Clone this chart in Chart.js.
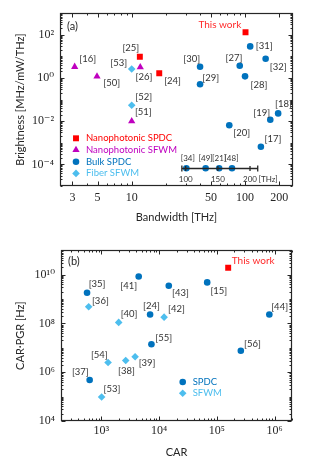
<!DOCTYPE html>
<html><head><meta charset="utf-8">
<script src="https://cdn.jsdelivr.net/npm/chart.js@4/dist/chart.umd.min.js"></script>
<style>
html,body{margin:0;padding:0;background:#fff;width:314px;height:475px;overflow:hidden}
#ca{position:absolute;left:0;top:0}
#cb{position:absolute;left:0;top:237px}
</style></head><body>
<canvas id="ca" width="314" height="237"></canvas>
<canvas id="cb" width="314" height="238"></canvas>
<script>
// ---------- Panel (a): Brightness vs Bandwidth ----------
const bwNanoSPDC = [101, 11.8, 17.5];
const brNanoSPDC = [130, 9.6, 1.67];
const refNanoSPDC = ['This work', '[25]', '[24]'];

const bwNanoSFWM = [3.14, 4.94, 11.9, 10];
const brNanoSFWM = [3.3, 1.19, 3.2, 0.01];
const refNanoSFWM = ['[16]', '[50]', '[26]', '[51]'];

const bwBulk = [40.1, 40.1, 89.8, 100, 111, 152, 196, 167, 72.6, 138];
const brBulk = [3.3, 0.51, 3.7, 1.19, 29, 7.8, 0.023, 0.0117, 0.0065, 0.00066];
const refBulk = ['[30]', '[29]', '[27]', '[28]', '[31]', '[32]', '[18]', '[19]', '[20]', '[17]'];

const bwFiber = [10, 10];
const brFiber = [2.6, 0.055];
const refFiber = ['[53]', '[52]'];

// inset: bulk SPDC sources with bandwidth only (linear THz scale)
const bwInset = [101, 131, 152, 172];
const refInset = ['[34]', '[49]', '[21]', '[48]'];
const insetTickValues = [100, 150, 200];

const bwTickValues = [3, 5, 10, 50, 100, 200];
const brTickValues = [1e-4, 1e-2, 1, 1e2];

// ---------- Panel (b): CAR·PGR vs CAR ----------
const carSPDC = [565, 4430, 14700, 68000, 6980, 810000, 7360, 260000, 627];
const pgrSPDC = [1.8e9, 8.3e9, 3.5e9, 4.8e9, 2.3e8, 2.3e8, 1.4e7, 7.6e6, 4.8e5];
const refSPDC = ['[35]', '[41]', '[43]', '[15]', '[24]', '[44]', '[55]', '[56]', '[37]'];

const carSFWM = [603, 1995, 12200, 1306, 2640, 3840, 1010];
const pgrSFWM = [4.8e8, 1.1e8, 1.8e8, 2.5e6, 3.0e6, 4.3e6, 9.6e4];
const refSFWM = ['[36]', '[40]', '[42]', '[54]', '[38]', '[39]', '[53]'];

const carThisWork = [1.57e5];
const pgrThisWork = [1.9e10];
const refThisWork = ['This work'];

const carTickValues = [1e3, 1e4, 1e5, 1e6];
const pgrTickValues = [1e4, 1e6, 1e8, 1e10];

// ---------- layout / style (kept apart from data) ----------
const C = {red:'#FF0000', mag:'#BF00BF', blue:'#0072BD', light:'#4DBEEE', axis:'#262626', text:'#333333', thisw:'#FF2A2A'};
const SANS = 'Lato, "Liberation Sans", sans-serif';
const SERIF = '"Liberation Serif", "DejaVu Serif", serif';
const insetLevel = 6.6e-5;            // vertical placement of the inset row
const insetAxisRange = [94, 212];     // extent of inset axis line (THz)

const offA = {
  nanoSPDC: [[-25.7,-8],[-9,-8.4],[13.3,7.3]],
  nanoSFWM: [[13,-8.3],[14.7,6.3],[3.7,10],[11.6,-9]],
  bulk: [[-8.3,-8.3],[10.7,-6.6],[-5.7,-7.7],[14,8.3],[14,0],[12.6,8.3],[5.3,-9.3],[-8.6,-6.7],[12.4,7.6],[12,-8]],
  fiber: [[-13,-6],[12,-8.3]],
  inset: [[1.5,-9.5],[0,-9.5],[0,-9.5],[-0.5,-9.5]]
};
const offB = {
  thisw: [[25,-6.6]],
  spdc: [[10,-9],[-10,9.4],[11.7,7],[11.6,8.7],[1.3,-8.4],[10.3,-7.7],[12.3,-6.6],[11.6,-6.3],[-9.3,-8]],
  sfwm: [[11.7,-6],[10.4,-8],[12.3,-8],[-8.7,-8],[0.7,10.3],[12,6],[10.4,-7.6]]
};

const pts = (xs, ys) => xs.map((x, i) => ({x, y: ys[i]}));
const SUP = {'-':'⁻','0':'⁰','1':'¹','2':'²','3':'³','4':'⁴','5':'⁵','6':'⁶','7':'⁷','8':'⁸','9':'⁹'};
const pow10 = v => '10' + String(Math.round(Math.log10(v))).split('').map(c => SUP[c]).join('');

function logTicks(min, max) {
  const out = [];
  for (let n = Math.floor(Math.log10(min)); n <= Math.ceil(Math.log10(max)); n++)
    for (let k = 1; k < 10; k++) {
      const v = k * Math.pow(10, n);
      if (v >= min * 0.9999 && v <= max * 1.0001) out.push(v);
    }
  return out;
}
const isMaj = (v, list) => list.some(m => Math.abs(m - v) / m < 1e-6);

function decorPlugin(o) {
  return {
    id: 'decor',
    afterDraw(chart) {
      const ctx = chart.ctx, a = chart.chartArea, sx = chart.scales.x, sy = chart.scales.y;
      ctx.save();
      const L = Math.round(a.left) + 0.5, R = Math.round(a.right) - 0.5;
      const T = Math.round(a.top) + 0.5, B = Math.round(a.bottom) - 0.5;
      // inward ticks
      ctx.strokeStyle = C.axis; ctx.lineWidth = 1;
      ctx.beginPath();
      for (const v of logTicks(sx.min, sx.max)) {
        const p = Math.round(sx.getPixelForValue(v)) + 0.5, len = isMaj(v, o.xMajor) ? 4 : 2;
        ctx.moveTo(p, B); ctx.lineTo(p, B - len); ctx.moveTo(p, T); ctx.lineTo(p, T + len);
      }
      for (const v of logTicks(sy.min, sy.max)) {
        const p = Math.round(sy.getPixelForValue(v)) + 0.5, len = isMaj(v, o.yMajor) ? 4 : 2;
        ctx.moveTo(L, p); ctx.lineTo(L + len, p); ctx.moveTo(R, p); ctx.lineTo(R - len, p);
      }
      ctx.stroke();
      ctx.lineWidth = 1.2;
      ctx.strokeRect(L, T, R - L, B - T);

      // point labels
      ctx.textAlign = 'center'; ctx.textBaseline = 'middle';
      chart.data.datasets.forEach((ds, i) => {
        if (!ds.refs) return;
        const meta = chart.getDatasetMeta(i);
        ds.refs.forEach((r, j) => {
          const el = meta.data[j], off = ds.offs[j];
          if (r === 'This work') { ctx.fillStyle = C.thisw; ctx.font = '10px ' + SANS; }
          else { ctx.fillStyle = C.text; ctx.font = (ds.labelSize || 9.5) + 'px ' + SANS; }
          ctx.fillText(r, el.x + off[0], el.y + off[1]);
        });
      });

      // panel tag
      ctx.fillStyle = C.axis; ctx.font = '11px ' + SANS; ctx.textAlign = 'left';
      ctx.fillText(o.tag, a.left + 7, a.top + o.tagDy);

      // legend
      o.legend.items.forEach((it, k) => {
        const ds = chart.data.datasets[it.ds];
        const x = a.left + o.legend.dx, y = a.bottom - o.legend.dy + k * o.legend.step;
        ctx.fillStyle = ds.backgroundColor; ctx.strokeStyle = ds.backgroundColor;
        Chart.helpers.drawPoint(ctx, {pointStyle: ds.pointStyle, radius: ds.pointRadius, borderWidth: 0, rotation: 0}, x, y);
        ctx.fillStyle = ds.backgroundColor;
        ctx.font = '9.5px ' + SANS; ctx.textAlign = 'left'; ctx.textBaseline = 'middle';
        ctx.fillText(it.text, x + 10, y);
      });

      // inset axis (panel a only)
      if (o.inset) {
        const si = chart.scales.xInset, y = Math.round(sy.getPixelForValue(insetLevel)) + 0.5;
        const x0 = si.getPixelForValue(insetAxisRange[0]), x1 = si.getPixelForValue(insetAxisRange[1]);
        ctx.strokeStyle = C.axis; ctx.lineWidth = 1.3;
        ctx.beginPath();
        ctx.moveTo(x0, y); ctx.lineTo(x1, y);
        ctx.moveTo(x0, y - 3); ctx.lineTo(x0, y + 3);
        ctx.moveTo(x1, y - 3); ctx.lineTo(x1, y + 3);
        insetTickValues.forEach(v => { const p = si.getPixelForValue(v); ctx.moveTo(p, y - 2.5); ctx.lineTo(p, y + 2.5); });
        ctx.stroke();
        ctx.fillStyle = C.text; ctx.font = '8px ' + SANS; ctx.textAlign = 'center'; ctx.textBaseline = 'middle';
        insetTickValues.forEach(v => ctx.fillText(String(v), si.getPixelForValue(v), y + 10.5));
        ctx.textAlign = 'left';
        ctx.fillText('[THz]', si.getPixelForValue(200) + 8.5, y + 10.5);
      }
      ctx.restore();
    }
  };
}

// inset linear scale is laid over the whole plot width: 100 THz and 200 THz land at
// 54% and 81.5% of the plot width
const insetMin = 100 - 0.5395 * (100 / 0.276), insetMax = insetMin + 100 / 0.276;

function mkDs(label, xs, ys, refs, offs, color, style, radius, extra) {
  return Object.assign({
    label, data: pts(xs, ys), refs, offs,
    backgroundColor: color, borderColor: color, borderWidth: 0,
    pointStyle: style, pointRadius: radius, pointHoverRadius: radius
  }, extra || {});
}

const chartA = new Chart(document.getElementById('ca'), {
  type: 'scatter',
  data: {
    datasets: [
      mkDs('Nanophotonic SPDC', bwNanoSPDC, brNanoSPDC, refNanoSPDC, offA.nanoSPDC, C.red, 'rect', 4.2),
      mkDs('Nanophotonic SFWM', bwNanoSFWM, brNanoSFWM, refNanoSFWM, offA.nanoSFWM, C.mag, 'triangle', 4.2),
      mkDs('Bulk SPDC', bwBulk, brBulk, refBulk, offA.bulk, C.blue, 'circle', 3.3),
      mkDs('Fiber SFWM', bwFiber, brFiber, refFiber, offA.fiber, C.light, 'rectRot', 3.8),
      mkDs('Bulk SPDC (inset)', bwInset, bwInset.map(() => insetLevel), refInset, offA.inset, C.blue, 'circle', 3.3, {xAxisID: 'xInset', labelSize: 8})
    ]
  },
  options: {
    responsive: false, animation: false, devicePixelRatio: 1,
    layout: {padding: {left: 0, top: 7, right: 21, bottom: 0}},
    plugins: {legend: {display: false}, tooltip: {enabled: false}},
    scales: {
      x: {
        type: 'logarithmic', min: 2.33, max: 265, position: 'bottom',
        grid: {display: false, drawTicks: false}, border: {display: false},
        afterBuildTicks: s => { s.ticks = bwTickValues.map(v => ({value: v})); },
        afterFit: s => { s.height = 51; },
        ticks: {autoSkip: false, maxRotation: 0, padding: 5, color: C.axis,
          font: {family: SERIF, size: 12}, callback: v => String(v)},
        title: {display: true, text: 'Bandwidth [THz]', color: C.axis,
          font: {family: SANS, size: 11}, padding: {top: 0, bottom: 13}}
      },
      xInset: {type: 'linear', display: false, min: insetMin, max: insetMax, position: 'bottom'},
      y: {
        type: 'logarithmic', min: 1e-5, max: 1e3, position: 'left',
        grid: {display: false, drawTicks: false}, border: {display: false},
        afterBuildTicks: s => { s.ticks = brTickValues.map(v => ({value: v})); },
        afterFit: s => { s.width = 60; },
        ticks: {autoSkip: false, padding: 6, color: C.axis,
          font: {family: SERIF, size: 12}, callback: v => pow10(v)},
        title: {display: true, text: 'Brightness [MHz/mW/THz]', color: C.axis,
          font: {family: SANS, size: 11}, padding: {top: 14, bottom: 0}}
      }
    }
  },
  plugins: [decorPlugin({
    xMajor: bwTickValues, yMajor: brTickValues, tag: '(a)', tagDy: 13, inset: true,
    legend: {dx: 16, dy: 47.7, step: 11.7, items: [
      {ds: 0, text: 'Nanophotonic SPDC'}, {ds: 1, text: 'Nanophotonic SFWM'},
      {ds: 2, text: 'Bulk SPDC'}, {ds: 3, text: 'Fiber SFWM'}]}
  })]
});

const chartB = new Chart(document.getElementById('cb'), {
  type: 'scatter',
  data: {
    datasets: [
      mkDs('SPDC', carSPDC, pgrSPDC, refSPDC, offB.spdc, C.blue, 'circle', 3.3),
      mkDs('SFWM', carSFWM, pgrSFWM, refSFWM, offB.sfwm, C.light, 'rectRot', 3.8),
      mkDs('This work', carThisWork, pgrThisWork, refThisWork, offB.thisw, C.red, 'rect', 4.2)
    ]
  },
  options: {
    responsive: false, animation: false, devicePixelRatio: 1,
    layout: {padding: {left: 0, top: 8, right: 22, bottom: 0}},
    plugins: {legend: {display: false}, tooltip: {enabled: false}},
    scales: {
      x: {
        type: 'logarithmic', min: 200, max: 2e6, position: 'bottom',
        grid: {display: false, drawTicks: false}, border: {display: false},
        afterBuildTicks: s => { s.ticks = carTickValues.map(v => ({value: v})); },
        afterFit: s => { s.height = 54; },
        ticks: {autoSkip: false, maxRotation: 0, padding: 3, color: C.axis,
          font: {family: SERIF, size: 12}, callback: v => pow10(v)},
        title: {display: true, text: 'CAR', color: C.axis,
          font: {family: SANS, size: 11}, padding: {top: 0, bottom: 15.7}}
      },
      y: {
        type: 'logarithmic', min: 1e4, max: 1e11, position: 'left',
        grid: {display: false, drawTicks: false}, border: {display: false},
        afterBuildTicks: s => { s.ticks = pgrTickValues.map(v => ({value: v})); },
        afterFit: s => { s.width = 61; },
        ticks: {autoSkip: false, padding: 6, color: C.axis,
          font: {family: SERIF, size: 12}, callback: v => pow10(v)},
        title: {display: true, text: 'CAR·PGR [Hz]', color: C.axis,
          font: {family: SANS, size: 11}, padding: {top: 14, bottom: 0}}
      }
    }
  },
  plugins: [decorPlugin({
    xMajor: carTickValues, yMajor: pgrTickValues, tag: '(b)', tagDy: 11, inset: false,
    legend: {dx: 121.7, dy: 39, step: 11.3, items: [
      {ds: 0, text: 'SPDC'}, {ds: 1, text: 'SFWM'}]}
  })]
});
</script></body></html>
